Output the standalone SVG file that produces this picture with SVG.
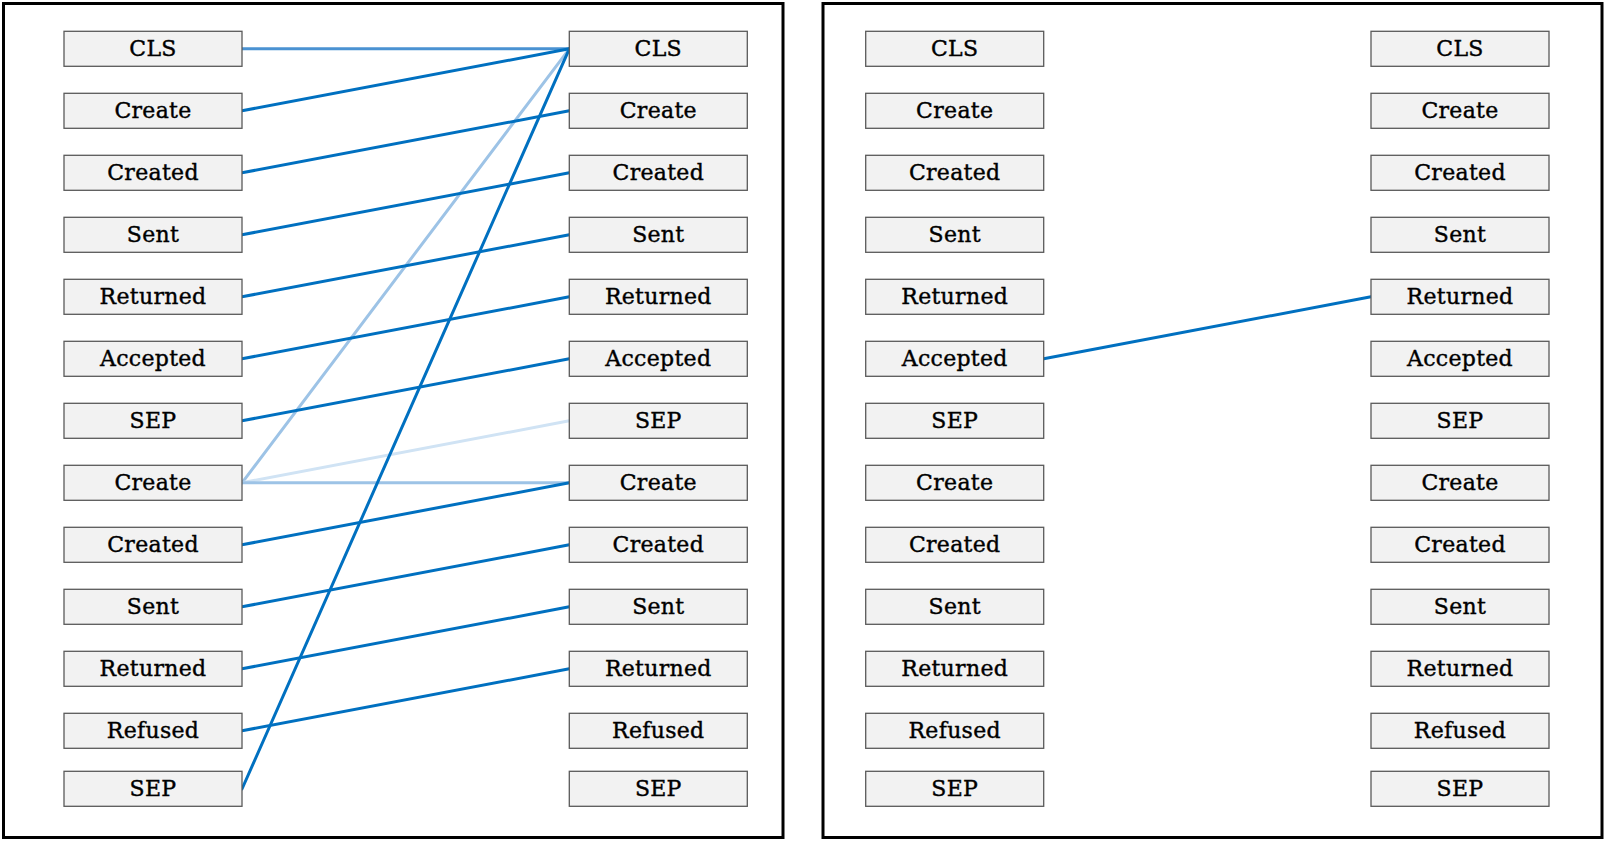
<svg xmlns="http://www.w3.org/2000/svg" width="1608" height="843" viewBox="0 0 1608 843">
<style>
.frame{fill:#ffffff;stroke:#000000;stroke-width:3}
.box rect{fill:#f2f2f2;stroke:#5a5a5a;stroke-width:1.3}
.box text{font-family:"DejaVu Serif","Liberation Serif",serif;font-size:22px;fill:#000;stroke:#000;stroke-width:0.4;text-anchor:middle;letter-spacing:0.3px}
.c{fill:none;stroke-width:3;stroke-linecap:round}
.dark{stroke:#0070c0}
.mid{stroke:#4a92d2}
.light{stroke:#9dc3e6}
.pale{stroke:#d0e3f4}
</style>
<rect width="1608" height="843" fill="#ffffff"/>
<rect class="frame" x="3.5" y="3.5" width="779.5" height="834"/>
<rect class="frame" x="823" y="3.5" width="779" height="834"/>
<g id="connectors">
<line class="c mid" x1="242" y1="48.8" x2="569.3" y2="48.8"/>
<line class="c light" x1="242" y1="482.8" x2="569.3" y2="48.8"/>
<line class="c pale" x1="242" y1="482.8" x2="569.3" y2="420.8"/>
<line class="c light" x1="242" y1="482.8" x2="569.3" y2="482.8"/>
<line class="c dark" x1="242" y1="110.8" x2="569.3" y2="48.8"/>
<line class="c dark" x1="242" y1="172.8" x2="569.3" y2="110.8"/>
<line class="c dark" x1="242" y1="234.8" x2="569.3" y2="172.8"/>
<line class="c dark" x1="242" y1="296.8" x2="569.3" y2="234.8"/>
<line class="c dark" x1="242" y1="358.8" x2="569.3" y2="296.8"/>
<line class="c dark" x1="242" y1="420.8" x2="569.3" y2="358.8"/>
<line class="c dark" x1="242" y1="544.8" x2="569.3" y2="482.8"/>
<line class="c dark" x1="242" y1="606.8" x2="569.3" y2="544.8"/>
<line class="c dark" x1="242" y1="668.8" x2="569.3" y2="606.8"/>
<line class="c dark" x1="242" y1="730.8" x2="569.3" y2="668.8"/>
<line class="c dark" x1="242" y1="789" x2="569.3" y2="48.8"/>
<line class="c dark" x1="1043.7" y1="358.8" x2="1371" y2="296.8"/>
</g>
<g id="A-left">
<g id="a1-0" class="box"><rect x="64" y="31.3" width="178" height="35"/><text x="153" y="56">CLS</text></g>
<g id="a1-1" class="box"><rect x="64" y="93.3" width="178" height="35"/><text x="153" y="118">Create</text></g>
<g id="a1-2" class="box"><rect x="64" y="155.3" width="178" height="35"/><text x="153" y="180">Created</text></g>
<g id="a1-3" class="box"><rect x="64" y="217.3" width="178" height="35"/><text x="153" y="242">Sent</text></g>
<g id="a1-4" class="box"><rect x="64" y="279.3" width="178" height="35"/><text x="153" y="304">Returned</text></g>
<g id="a1-5" class="box"><rect x="64" y="341.3" width="178" height="35"/><text x="153" y="366">Accepted</text></g>
<g id="a1-6" class="box"><rect x="64" y="403.3" width="178" height="35"/><text x="153" y="428">SEP</text></g>
<g id="a1-7" class="box"><rect x="64" y="465.3" width="178" height="35"/><text x="153" y="490">Create</text></g>
<g id="a1-8" class="box"><rect x="64" y="527.3" width="178" height="35"/><text x="153" y="552">Created</text></g>
<g id="a1-9" class="box"><rect x="64" y="589.3" width="178" height="35"/><text x="153" y="614">Sent</text></g>
<g id="a1-10" class="box"><rect x="64" y="651.3" width="178" height="35"/><text x="153" y="676">Returned</text></g>
<g id="a1-11" class="box"><rect x="64" y="713.3" width="178" height="35"/><text x="153" y="738">Refused</text></g>
<g id="a1-12" class="box"><rect x="64" y="771.3" width="178" height="35"/><text x="153" y="796">SEP</text></g>
</g>
<g id="A-right">
<g id="a2-0" class="box"><rect x="569.3" y="31.3" width="178" height="35"/><text x="658.3" y="56">CLS</text></g>
<g id="a2-1" class="box"><rect x="569.3" y="93.3" width="178" height="35"/><text x="658.3" y="118">Create</text></g>
<g id="a2-2" class="box"><rect x="569.3" y="155.3" width="178" height="35"/><text x="658.3" y="180">Created</text></g>
<g id="a2-3" class="box"><rect x="569.3" y="217.3" width="178" height="35"/><text x="658.3" y="242">Sent</text></g>
<g id="a2-4" class="box"><rect x="569.3" y="279.3" width="178" height="35"/><text x="658.3" y="304">Returned</text></g>
<g id="a2-5" class="box"><rect x="569.3" y="341.3" width="178" height="35"/><text x="658.3" y="366">Accepted</text></g>
<g id="a2-6" class="box"><rect x="569.3" y="403.3" width="178" height="35"/><text x="658.3" y="428">SEP</text></g>
<g id="a2-7" class="box"><rect x="569.3" y="465.3" width="178" height="35"/><text x="658.3" y="490">Create</text></g>
<g id="a2-8" class="box"><rect x="569.3" y="527.3" width="178" height="35"/><text x="658.3" y="552">Created</text></g>
<g id="a2-9" class="box"><rect x="569.3" y="589.3" width="178" height="35"/><text x="658.3" y="614">Sent</text></g>
<g id="a2-10" class="box"><rect x="569.3" y="651.3" width="178" height="35"/><text x="658.3" y="676">Returned</text></g>
<g id="a2-11" class="box"><rect x="569.3" y="713.3" width="178" height="35"/><text x="658.3" y="738">Refused</text></g>
<g id="a2-12" class="box"><rect x="569.3" y="771.3" width="178" height="35"/><text x="658.3" y="796">SEP</text></g>
</g>
<g id="B-left">
<g id="b1-0" class="box"><rect x="865.7" y="31.3" width="178" height="35"/><text x="954.7" y="56">CLS</text></g>
<g id="b1-1" class="box"><rect x="865.7" y="93.3" width="178" height="35"/><text x="954.7" y="118">Create</text></g>
<g id="b1-2" class="box"><rect x="865.7" y="155.3" width="178" height="35"/><text x="954.7" y="180">Created</text></g>
<g id="b1-3" class="box"><rect x="865.7" y="217.3" width="178" height="35"/><text x="954.7" y="242">Sent</text></g>
<g id="b1-4" class="box"><rect x="865.7" y="279.3" width="178" height="35"/><text x="954.7" y="304">Returned</text></g>
<g id="b1-5" class="box"><rect x="865.7" y="341.3" width="178" height="35"/><text x="954.7" y="366">Accepted</text></g>
<g id="b1-6" class="box"><rect x="865.7" y="403.3" width="178" height="35"/><text x="954.7" y="428">SEP</text></g>
<g id="b1-7" class="box"><rect x="865.7" y="465.3" width="178" height="35"/><text x="954.7" y="490">Create</text></g>
<g id="b1-8" class="box"><rect x="865.7" y="527.3" width="178" height="35"/><text x="954.7" y="552">Created</text></g>
<g id="b1-9" class="box"><rect x="865.7" y="589.3" width="178" height="35"/><text x="954.7" y="614">Sent</text></g>
<g id="b1-10" class="box"><rect x="865.7" y="651.3" width="178" height="35"/><text x="954.7" y="676">Returned</text></g>
<g id="b1-11" class="box"><rect x="865.7" y="713.3" width="178" height="35"/><text x="954.7" y="738">Refused</text></g>
<g id="b1-12" class="box"><rect x="865.7" y="771.3" width="178" height="35"/><text x="954.7" y="796">SEP</text></g>
</g>
<g id="B-right">
<g id="b2-0" class="box"><rect x="1371" y="31.3" width="178" height="35"/><text x="1460" y="56">CLS</text></g>
<g id="b2-1" class="box"><rect x="1371" y="93.3" width="178" height="35"/><text x="1460" y="118">Create</text></g>
<g id="b2-2" class="box"><rect x="1371" y="155.3" width="178" height="35"/><text x="1460" y="180">Created</text></g>
<g id="b2-3" class="box"><rect x="1371" y="217.3" width="178" height="35"/><text x="1460" y="242">Sent</text></g>
<g id="b2-4" class="box"><rect x="1371" y="279.3" width="178" height="35"/><text x="1460" y="304">Returned</text></g>
<g id="b2-5" class="box"><rect x="1371" y="341.3" width="178" height="35"/><text x="1460" y="366">Accepted</text></g>
<g id="b2-6" class="box"><rect x="1371" y="403.3" width="178" height="35"/><text x="1460" y="428">SEP</text></g>
<g id="b2-7" class="box"><rect x="1371" y="465.3" width="178" height="35"/><text x="1460" y="490">Create</text></g>
<g id="b2-8" class="box"><rect x="1371" y="527.3" width="178" height="35"/><text x="1460" y="552">Created</text></g>
<g id="b2-9" class="box"><rect x="1371" y="589.3" width="178" height="35"/><text x="1460" y="614">Sent</text></g>
<g id="b2-10" class="box"><rect x="1371" y="651.3" width="178" height="35"/><text x="1460" y="676">Returned</text></g>
<g id="b2-11" class="box"><rect x="1371" y="713.3" width="178" height="35"/><text x="1460" y="738">Refused</text></g>
<g id="b2-12" class="box"><rect x="1371" y="771.3" width="178" height="35"/><text x="1460" y="796">SEP</text></g>
</g>
</svg>
